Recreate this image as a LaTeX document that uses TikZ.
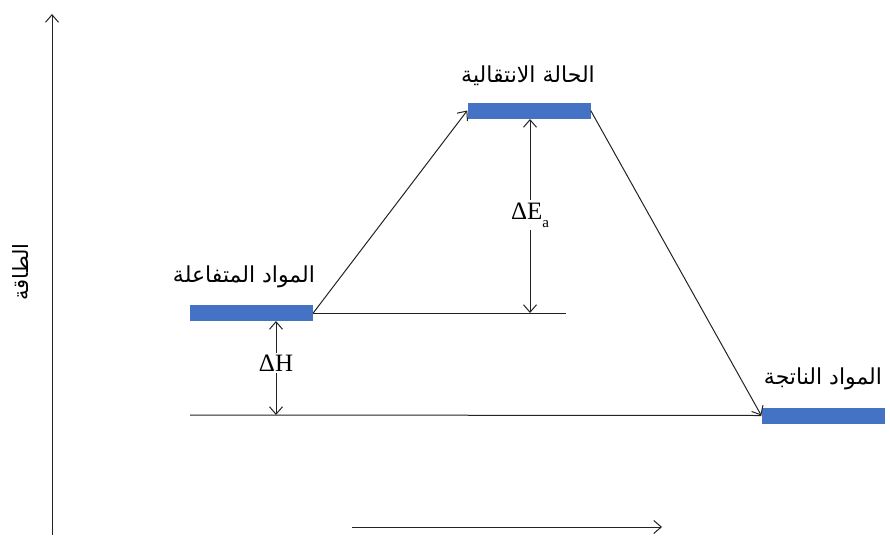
\documentclass[tikz,border=0pt]{standalone}
\usepackage{fontspec}
\usetikzlibrary{arrows.meta}
\TeXXeTstate=1
\newfontfamily\arabicfont[Script=Arabic]{DejaVu Sans}
\newfontfamily\serfont{Liberation Serif}
\definecolor{barblue}{RGB}{68,114,196}
\definecolor{linegray}{RGB}{35,35,35}
\begin{document}
\begin{tikzpicture}[x=1pt,y=-1pt,
  bar/.style={fill=barblue,draw=none,minimum width=123pt,minimum height=16pt,inner sep=0pt},
  conn/.style={draw=linegray,line width=1pt},
  tip/.style={-{Straight Barb[length=7.5pt,width=13pt,line width=1pt]}},
  arlabel/.style={font=\arabicfont\fontsize{22}{26}\selectfont,inner sep=0pt},
  dlabel/.style={font=\serfont\fontsize{25}{28}\selectfont,inner sep=2pt,fill=white}]
\useasboundingbox (0,0) rectangle (890,535);
% axes
\coordinate (yb) at (52,535);
\coordinate (yt) at (52,14);
\coordinate (xl) at (352,527);
\coordinate (xr) at (662,527);
\draw[conn,tip] (yb) -- (yt);
\draw[conn,tip] (xl) -- (xr);
\node[arlabel,font=\arabicfont\fontsize{21}{24}\selectfont,rotate=90] (ylab) at (21,272) {\beginR الطاقة\endR};
% levels
\node[bar] (R) at (251.5,313) {};
\node[bar] (T) at (529,110.5) {};
\node[bar] (P) at (823,415.5) {};
\node[arlabel] (Rl) at (244,277) {\beginR المواد المتفاعلة\endR};
\node[arlabel] (Tl) at (528,76) {\beginR الحالة الانتقالية\endR};
\node[arlabel] (Pl) at (823,379) {\beginR المواد الناتجة\endR};
% reaction path
\draw[conn,tip] (R.east) -- (T.west);
\draw[conn,tip] (T.east) -- (P.west);
% reference lines
\coordinate (Rline) at (566,313);
\coordinate (Pline) at (190,415);
\draw[conn] (R.east) -- (Rline);
\draw[conn] (Pline) -- (P.west);
% Delta Ea
\coordinate (eat) at (530,119);
\coordinate (eab) at (530,313);
\node[dlabel] (ea) at (530,215) {ΔE\raisebox{-0.32em}{\fontsize{15}{15}\selectfont a}};
\draw[conn,tip] (ea) -- (eat);
\draw[conn,tip] (ea) -- (eab);
% Delta H
\coordinate (dht) at (276,321);
\coordinate (dhb) at (276,415);
\node[dlabel] (dh) at (276,363) {ΔH};
\draw[conn,tip] (dh) -- (dht);
\draw[conn,tip] (dh) -- (dhb);
\end{tikzpicture}
\end{document}
